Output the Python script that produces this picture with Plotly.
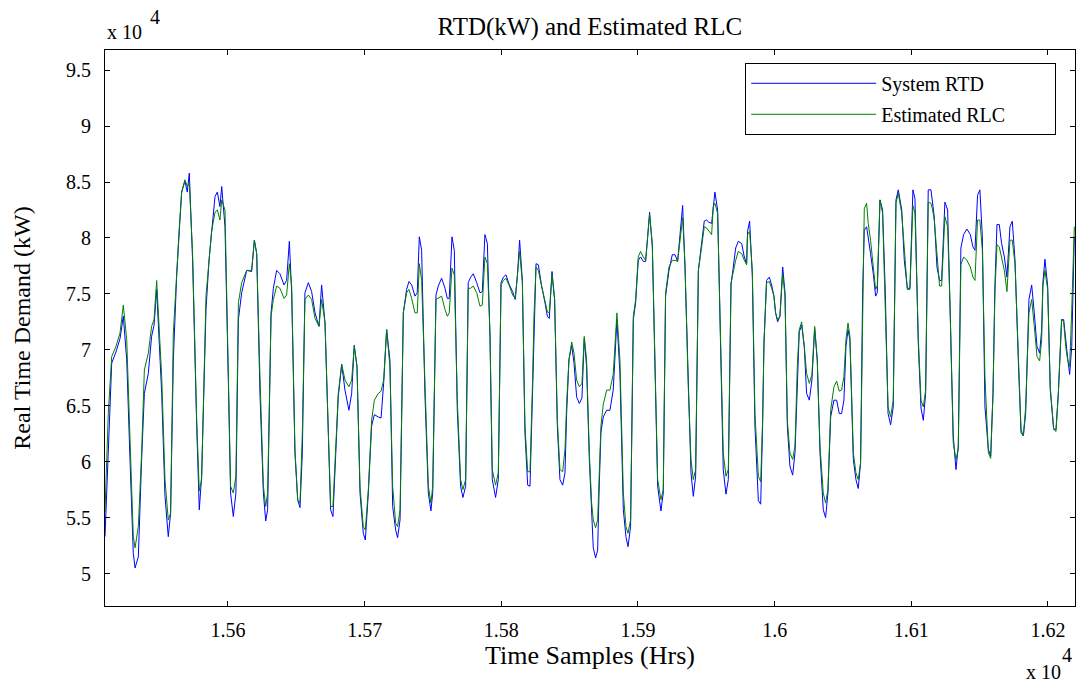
import plotly.graph_objects as go

# Time samples (hours) at the vertices of the traces
hours = [
15510.0,15512.4,15514.9,15518.0,15521.0,15523.4,15525.9,15528.3,15530.7,15532.0,15534.4,15536.8,15538.8,15541.7,15544.1,15545.9,15547.8,15551.5,15553.9,15556.3,
15558.0,15560.0,15562.4,15564.4,15566.1,15568.5,15570.2,15571.7,15574.1,15577.1,15579.0,15580.7,15583.9,15586.1,15588.0,15590.5,15592.2,15594.1,15595.4,15597.8,
15600.2,15601.9,15603.9,15605.8,15607.6,15610.0,15613.7,15617.3,15619.3,15621.0,15623.4,15625.9,15627.6,15629.0,15631.5,15633.2,15635.6,15638.0,15641.0,15642.9,
15644.9,15646.6,15649.0,15651.0,15652.7,15654.4,15656.3,15658.8,15661.2,15663.7,15666.6,15668.5,15671.0,15673.4,15675.1,15676.8,15678.8,15680.7,15683.2,15685.6,
15688.5,15690.5,15692.4,15694.4,15696.6,15699.0,15700.5,15702.7,15705.1,15707.1,15710.0,15712.0,15713.9,15716.1,15718.5,15720.5,15722.7,15724.1,15725.9,15728.3,
15730.7,15732.4,15734.4,15736.8,15738.5,15740.0,15741.7,15744.1,15746.6,15748.5,15749.8,15752.2,15753.9,15756.3,15758.8,15760.5,15761.9,15763.9,15765.6,15767.8,
15770.2,15771.9,15773.9,15775.8,15777.6,15779.5,15782.0,15784.4,15786.1,15788.0,15789.8,15791.7,15793.4,15795.8,15797.8,15799.8,15801.5,15803.4,15805.9,15808.3,
15810.2,15811.7,15813.4,15815.4,15817.3,15819.3,15821.0,15822.7,15823.9,15825.4,15827.1,15829.5,15832.0,15833.7,15835.1,15837.1,15839.0,15841.0,15842.9,15844.9,
15846.6,15847.8,15849.5,15851.5,15853.2,15855.1,15857.1,15859.0,15860.7,15862.4,15864.4,15866.1,15867.3,15869.0,15870.5,15871.5,15872.9,15874.6,15877.1,15879.5,
15881.9,15884.6,15886.8,15889.3,15891.2,15892.7,15894.6,15896.6,15898.3,15900.2,15901.9,15903.9,15905.6,15907.1,15908.5,15910.5,15912.4,15914.4,15916.8,15918.5,
15920.2,15922.7,15925.1,15927.1,15929.0,15930.7,15932.7,15934.4,15936.8,15938.8,15940.5,15942.2,15944.2,15946.6,15948.5,15950.2,15951.9,15953.9,15955.1,15956.3,
15958.3,15960.0,15962.4,15964.4,15966.1,15968.1,15969.8,15971.5,15973.4,15975.9,15977.8,15979.5,15980.2,15981.7,15983.7,15985.6,15988.1,15989.8,15991.2,15992.2,
15994.1,15996.1,15997.8,15999.5,16000.7,16002.2,16003.9,16005.9,16007.6,16009.3,16011.2,16013.2,16014.9,16016.6,16018.0,16019.8,16021.7,16023.4,16025.4,16027.3,
16029.3,16031.2,16033.2,16035.6,16037.3,16039.0,16041.0,16043.4,16045.4,16047.3,16049.0,16050.7,16052.2,16053.7,16055.1,16057.6,16059.5,16061.2,16062.9,16064.4,
16065.6,16067.3,16068.5,16070.2,16072.2,16073.9,16075.1,16077.1,16079.0,16081.0,16083.0,16084.9,16086.8,16088.8,16090.5,16093.0,16094.9,16097.1,16099.0,16101.2,
16102.7,16105.1,16107.1,16108.8,16110.5,16112.4,16114.4,16115.6,16116.8,16118.8,16120.7,16122.2,16124.6,16126.6,16128.5,16130.7,16132.7,16134.4,16136.3,16138.3,
16140.7,16143.2,16145.1,16146.6,16148.5,16150.2,16152.0,16153.9,16156.4,16158.1,16159.8,16161.2,16162.7,16164.4,16166.1,16168.1,16170.0,16172.2,16173.9,16175.9,
16178.3,16180.3,16182.0,16183.7,16186.1,16188.1,16190.0,16192.0,16193.9,16195.4,16196.3,16197.8,16199.8,16201.7,16204.2,16205.9,16207.6,16210.0,16211.5,16213.0,
16214.4,16215.9,16217.4,16219.3,
]

# System real time demand (kW)
system_rtd = [
53300,60200,68800,69800,71000,73000,69100,60200,51800,50500,51500,60200,66100,67900,71200,72200,75400,66100,56900,53300,
55400,69100,76500,80700,84100,85100,84100,85800,78000,63200,55700,58700,73600,78000,80400,83700,84100,82800,84600,81000,
67600,57200,55100,57200,72700,75100,77100,77000,79800,78600,66100,57200,54700,55700,73300,75500,77100,76800,75800,76200,
79700,75100,60800,56600,55900,60800,75100,76000,75200,73300,72100,75800,72400,63200,55700,55100,60800,65800,68700,66400,
64600,66100,70400,68500,57200,53600,53000,57200,63200,64200,64000,63900,67000,71800,69100,56000,53900,53200,54800,73300,
75400,76100,75800,74800,75100,80100,78900,66100,57200,55600,57200,74900,75700,76400,75500,74600,74600,80100,78900,64600,
57800,56800,57800,76000,76500,76800,76000,75100,75200,80300,79500,71200,58400,56800,58400,76000,76500,76700,75800,75200,
74500,76500,79800,76200,62600,57900,57800,66100,73000,77700,77600,75700,74200,73000,72800,77000,74500,63200,58400,57900,
59000,64300,69100,70400,68800,65800,65200,65700,71000,68500,60200,55700,52300,51400,52100,57200,62600,64000,64600,64600,
66400,72700,67900,55700,53300,52400,54200,72700,74200,78000,78300,77900,77900,80100,82300,79200,67600,57800,55600,57200,
74800,77100,78500,78500,77900,80100,82900,77400,66100,59000,56900,58700,77100,79700,81500,81600,81400,81300,83100,84100,
82500,73600,59300,57100,58400,75800,77700,79100,79700,79500,78300,77700,80600,81500,76500,63200,56500,56200,63200,70600,
76200,76500,75800,74800,73300,72500,73000,77400,75100,63200,59600,58800,60800,67900,71600,72200,70300,66100,65500,67300,
71900,69100,60800,55700,55000,57200,64000,65500,65500,64300,64300,65500,70300,71800,70900,60200,58400,57600,59900,75100,
80700,81000,80100,78600,76800,74800,75100,83400,82500,75100,64300,63300,64900,83400,84300,82500,78000,75500,75500,84300,
83500,70600,64800,63700,66100,84300,84300,83100,81900,77400,76200,76200,83200,82500,73900,62300,59300,61400,79100,80300,
80800,80300,79200,78900,83800,84300,80100,64900,61100,60500,66100,75700,81200,81200,79500,78300,76500,81000,81500,78000,
69100,62600,62300,64300,74500,75800,73300,70300,69700,71800,76000,78100,75700,66400,62900,62900,66100,72700,72700,70600,
69300,67800,70300,80100,
]

# Estimated real load curve (kW)
estimated_rlc = [
55500,64300,69400,70300,71500,74000,70900,61700,53300,52300,54200,60800,68200,69700,72100,72700,76200,67600,58400,54800,
55400,71500,77100,81000,84100,85200,84600,84900,78600,63700,57400,58400,74800,78300,80600,82300,82500,81600,83400,82500,
68500,57800,57200,58700,74200,76000,77100,77100,79800,78600,67600,57800,56000,57200,73000,74500,75700,75500,74600,74900,
77700,75700,61100,56600,56300,62600,74500,74900,74500,72800,72100,74500,72400,63700,56000,56000,61100,66100,68700,67300,
66700,67300,70300,68500,57800,54200,53900,57500,63700,65500,66100,66300,67300,71800,68500,57800,54500,54200,55700,73300,
75100,75400,74600,73300,73300,77700,76200,67600,57800,56300,57800,74500,74600,74800,73600,73000,73300,77300,76700,65500,
58400,57500,58400,75500,75500,75700,75100,73900,74000,78300,77700,71500,59300,57900,59000,75800,76200,76400,75700,74900,
74600,76700,78800,76000,63200,59100,59100,66400,73000,77400,77100,75700,74200,73400,73300,76700,74500,63700,59300,59100,
61100,65200,69100,70700,69700,67300,66700,67000,71200,69100,60800,56300,54800,54100,54800,57800,63200,65100,66400,66400,
67800,73300,69100,57200,54200,53600,54800,73000,74500,78300,78800,78300,78000,80100,82100,79500,68500,58400,56600,57500,
75100,77400,78000,78000,77900,79800,81800,77700,66700,60200,58400,59300,77100,79200,81000,80900,80600,80300,82800,83100,
82200,73600,60800,58700,59300,76000,77100,78000,78800,78600,78000,77600,80300,80600,77100,64300,58700,58200,63700,70600,
76000,76100,75500,74800,73300,72700,73000,76800,74800,63700,60800,60200,61400,68500,71800,72500,70300,67900,67000,67800,
72100,69100,61400,57200,56300,57500,64600,66700,67200,66300,66400,67600,70900,72400,71200,60800,59000,58400,59900,75100,
82600,83100,81300,79800,77400,75400,75700,83400,82200,74200,64900,64000,65500,83100,84000,82200,78600,75400,75400,82900,
82200,71200,65500,64900,66400,83200,83100,82500,81600,78300,75700,75700,81900,81000,73300,61700,60200,61100,77600,78300,
78000,77400,76500,76200,81600,81600,78900,67600,60800,60300,66100,75100,79400,79200,78300,77100,75200,79800,79800,77700,
69700,62900,62300,64900,73300,74500,72100,69400,69000,70900,75700,77100,75400,66700,62900,62700,66100,72700,72500,70300,
69100,68500,73600,81000,
]

# Axis ticks (values shown in units of 10^4)
x_tick_vals = [15600, 15700, 15800, 15900, 16000, 16100, 16200]
x_tick_text = ["1.56", "1.57", "1.58", "1.59", "1.6", "1.61", "1.62"]
y_tick_vals = [50000, 55000, 60000, 65000, 70000, 75000, 80000, 85000, 90000, 95000]
y_tick_text = ["5", "5.5", "6", "6.5", "7", "7.5", "8", "8.5", "9", "9.5"]

FONT = "Liberation Serif, Times New Roman, serif"
PAD = "\u00a0" * 9  # keeps the legend box as wide as the reference's

fig = go.Figure()
fig.add_trace(go.Scatter(x=hours, y=system_rtd, mode="lines", name="System RTD",
                         line=dict(color="#0000FF", width=1), legendgroup="a"))
fig.add_trace(go.Scatter(x=hours, y=estimated_rlc, mode="lines", name="Estimated RLC" + PAD,
                         line=dict(color="#008000", width=1), legendgroup="b"))

axis_common = dict(showline=True, linecolor="black", linewidth=1, mirror="ticks",
                   ticks="inside", ticklen=5, tickwidth=1, tickcolor="black",
                   showgrid=False, zeroline=False,
                   tickfont=dict(family=FONT, size=20, color="black"))

fig.update_xaxes(range=[15510, 16219.8], tickvals=x_tick_vals, ticktext=x_tick_text,
                 ticklabelstandoff=6,
                 title=dict(text="Time Samples (Hrs)", font=dict(family=FONT, size=26, color="black"), standoff=0),
                 **axis_common)
fig.update_yaxes(range=[47100, 96800], tickvals=y_tick_vals, ticktext=y_tick_text,
                 ticklabelstandoff=9,
                 title=dict(text="Real Time Demand (kW)", font=dict(family=FONT, size=24, color="black"), standoff=28),
                 **axis_common)

fig.update_layout(
    width=1079, height=683,
    margin=dict(l=105, r=4, t=50, b=77),
    paper_bgcolor="white", plot_bgcolor="white",
    title=dict(text="RTD(kW) and Estimated RLC", x=0.5467, xanchor="center", y=0.962, yanchor="middle",
               font=dict(family=FONT, size=25, color="black")),
    legend=dict(x=0.66, y=0.977, xanchor="left", yanchor="top",
                bordercolor="black", borderwidth=1, bgcolor="white",
                font=dict(family=FONT, size=20, color="black"),
                itemwidth=125, tracegroupgap=2),
    annotations=[
        dict(text="x 10", xref="paper", yref="paper", x=0.0, y=1.0, xanchor="left", yanchor="middle",
             showarrow=False, font=dict(family=FONT, size=20, color="black"), yshift=18),
        dict(text="4", xref="paper", yref="paper", x=0.0, y=1.0, xanchor="left", yanchor="middle",
             showarrow=False, font=dict(family=FONT, size=20, color="black"), xshift=43, yshift=33),
        dict(text="x 10", xref="paper", yref="paper", x=1.0, y=0.0, xanchor="right", yanchor="middle",
             showarrow=False, font=dict(family=FONT, size=20, color="black"), xshift=-12, yshift=-66),
        dict(text="4", xref="paper", yref="paper", x=1.0, y=0.0, xanchor="right", yanchor="middle",
             showarrow=False, font=dict(family=FONT, size=20, color="black"), xshift=-1, yshift=-49),
    ],
)

fig.write_html("out.html")
